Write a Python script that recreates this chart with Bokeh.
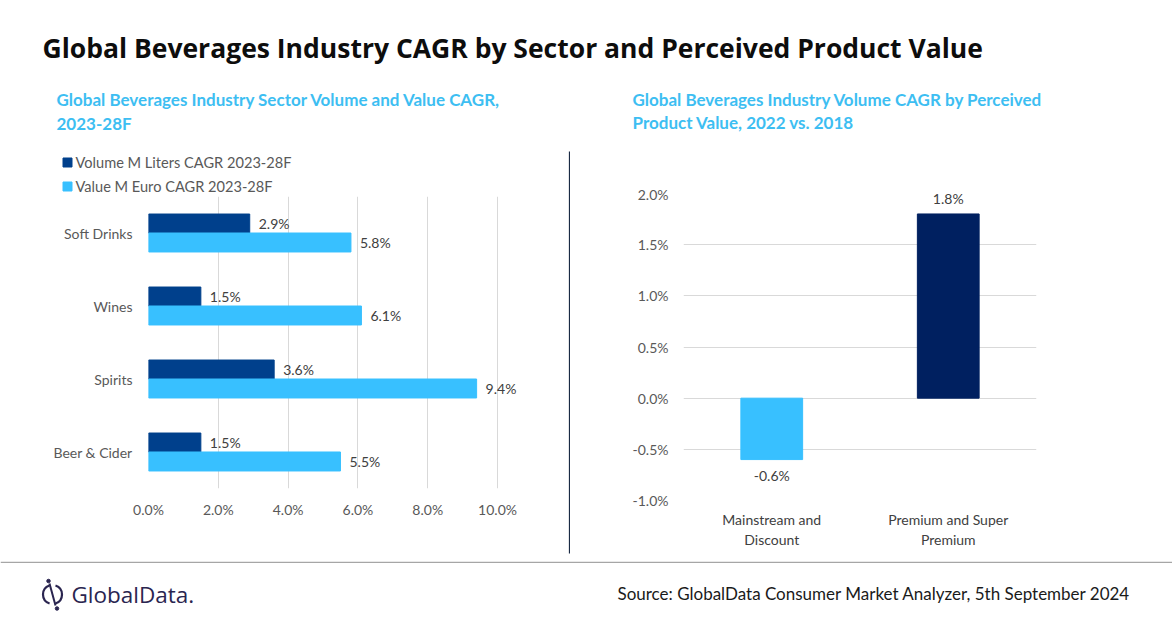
from bokeh.plotting import figure
from bokeh.models import (ColumnDataSource, FactorRange, Range1d, LabelSet,
                          PrintfTickFormatter, FixedTicker)
from bokeh.transform import dodge
from bokeh.layouts import column, row
from bokeh.embed import file_html
from bokeh.resources import INLINE
from bokeh.core.properties import value

# ---------------- data ----------------
TITLE = "Global Beverages Industry CAGR by Sector and Perceived Product Value"
LEFT_SUBTITLE = ["Global Beverages Industry Sector Volume and Value CAGR,", "2023-28F"]
RIGHT_SUBTITLE = ["Global Beverages Industry Volume CAGR by Perceived", "Product Value, 2022 vs. 2018"]
SOURCE = "Source: GlobalData Consumer Market Analyzer, 5th September 2024"
BRAND = "GlobalData."

sectors = ["Soft Drinks", "Wines", "Spirits", "Beer & Cider"]
volume_cagr = [2.9, 1.5, 3.6, 1.5]
value_cagr = [5.8, 6.1, 9.4, 5.5]
series_names = ["Volume M Liters CAGR 2023-28F", "Value M Euro CAGR 2023-28F"]
left_ticks = [0, 2, 4, 6, 8, 10]

segments = ["Mainstream and\nDiscount", "Premium and Super\nPremium"]
segment_cagr = [-0.6, 1.8]
right_ticks = [-1.0, -0.5, 0.0, 0.5, 1.0, 1.5, 2.0]

# ---------------- style ----------------
FONT = "Lato"
DARK_L = "#00408C"
LIGHT = "#38C0FF"
DARK_R = "#002060"
SUB_C = "#3DBEF2"
GRID_C = "#D9D9D9"
TICK_C = "#595959"
LBL_C = "#404040"


def canvas(w, h):
    f = figure(width=w, height=h, x_range=Range1d(0, w), y_range=Range1d(h, 0),
               output_backend="svg", toolbar_location=None, min_border=0,
               x_axis_location=None, y_axis_location=None, frame_align=False)
    f.grid.visible = False
    f.outline_line_color = None
    f.background_fill_color = "white"
    f.border_fill_color = "white"
    return f


def txt(f, x, y, s, size, color, bold=False, align="left", font=FONT):
    f.text(x=[x], y=[y], text=[s], text_font=value(font), text_font_size=size,
           text_color=color, text_baseline="middle", text_align=align,
           text_font_style="bold" if bold else "normal")


# ---------------- header ----------------
head = canvas(1172, 80)
txt(head, 42, 47, TITLE, "26.5px", "#0D0D0D", bold=True, font="Open Sans")

left_head = canvas(568, 116)
txt(left_head, 56, 19, LEFT_SUBTITLE[0], "17px", SUB_C, bold=True)
txt(left_head, 56, 43, LEFT_SUBTITLE[1], "17px", SUB_C, bold=True)
for i, (nm, c) in enumerate(zip(series_names, [DARK_L, LIGHT])):
    yy = 82 + 24 * i
    left_head.rect(x=[67], y=[yy], width=9, height=9, color=c)
    txt(left_head, 75, yy, nm, "14.6px", TICK_C)

right_head = canvas(602, 105)
txt(right_head, 62, 19, RIGHT_SUBTITLE[0], "17px", SUB_C, bold=True)
txt(right_head, 62, 42, RIGHT_SUBTITLE[1], "17px", SUB_C, bold=True)

# ---------------- left chart ----------------
src = ColumnDataSource(dict(
    sector=sectors, volume=volume_cagr, val=value_cagr,
    vol_lbl=[f"{v:.1f}%" for v in volume_cagr],
    val_lbl=[f"{v:.1f}%" for v in value_cagr]))

# axis runs a little past 10% so the outside value labels have room
lc = figure(width=568, height=365, y_range=FactorRange(*reversed(sectors)),
            x_range=Range1d(0, 10.6), output_backend="svg", toolbar_location=None,
            min_border_left=148, min_border_right=50, min_border_top=0,
            min_border_bottom=73, frame_align=False)
lc.hbar(y=dodge("sector", 0.13, range=lc.y_range), right="volume", height=0.26,
        color=DARK_L, source=src)
lc.hbar(y=dodge("sector", -0.13, range=lc.y_range), right="val", height=0.26,
        color=LIGHT, source=src)
for fld, lbl, off in [("volume", "vol_lbl", 0.13), ("val", "val_lbl", -0.13)]:
    lc.add_layout(LabelSet(x=fld, y=dodge("sector", off, range=lc.y_range), text=lbl,
                           x_offset=9, text_baseline="middle", text_font=value(FONT),
                           text_font_size="14px", text_color=LBL_C, source=src))
lc.xaxis.ticker = FixedTicker(ticks=left_ticks)
lc.xaxis.formatter = PrintfTickFormatter(format="%.1f%%")
lc.xgrid.ticker = FixedTicker(ticks=left_ticks)
lc.xgrid.grid_line_color = GRID_C
lc.ygrid.grid_line_color = None
lc.outline_line_color = None
for ax, so in [(lc.xaxis, 12), (lc.yaxis, 16)]:
    ax.axis_line_color = None
    ax.major_tick_line_color = None
    ax.minor_tick_line_color = None
    ax.major_tick_out = 0
    ax.major_tick_in = 0
    ax.minor_tick_out = 0
    ax.major_label_standoff = so
    ax.major_label_text_font = FONT
    ax.major_label_text_font_size = "14px"
    ax.major_label_text_color = TICK_C

# ---------------- right chart ----------------
rsrc = ColumnDataSource(dict(
    seg=segments, cagr=segment_cagr, color=[LIGHT, DARK_R],
    lbl=[f"{v:.1f}%" for v in segment_cagr],
    off=[15 if v > 0 else -16 for v in segment_cagr]))

rc = figure(width=602, height=376, x_range=FactorRange(*segments),
            y_range=Range1d(-1, 2), output_backend="svg", toolbar_location=None,
            min_border_left=113, min_border_right=136, min_border_top=8,
            min_border_bottom=61, frame_align=False)
rc.vbar(x="seg", top="cagr", bottom=0, width=0.35, color="color", source=rsrc)
rc.add_layout(LabelSet(x="seg", y="cagr", text="lbl", y_offset="off",
                       text_align="center", text_baseline="middle",
                       text_font=value(FONT), text_font_size="14px",
                       text_color=LBL_C, source=rsrc))
rc.yaxis.ticker = FixedTicker(ticks=right_ticks)
rc.yaxis.formatter = PrintfTickFormatter(format="%.1f%%")
rc.ygrid.ticker = FixedTicker(ticks=right_ticks)
rc.ygrid.grid_line_color = GRID_C
rc.xgrid.grid_line_color = None
rc.outline_line_color = None
for ax, so, c in [(rc.xaxis, 10, LBL_C), (rc.yaxis, 15, TICK_C)]:
    ax.axis_line_color = None
    ax.major_tick_line_color = None
    ax.minor_tick_line_color = None
    ax.major_tick_out = 0
    ax.major_tick_in = 0
    ax.minor_tick_out = 0
    ax.major_label_standoff = so
    ax.major_label_text_font = FONT
    ax.major_label_text_font_size = "14px"
    ax.major_label_text_color = c

# ---------------- divider ----------------
div = canvas(2, 481)
div.line(x=[1, 1], y=[71, 473], line_color="#1A2A44", line_width=1.5)

# ---------------- footer ----------------
foot = canvas(1172, 67)
foot.line(x=[0, 1172], y=[0.75, 0.75], line_color="#A6A6A6", line_width=1.5)
LOGO_C = "#2A2550"
foot.arc(x=[52, 52], y=[33, 33], radius=9.5, start_angle=[1.9, -1.25],
         end_angle=[4.4, 1.25], line_color=LOGO_C, line_width=2.2)
foot.line(x=[49, 55], y=[22, 44], line_color=LOGO_C, line_width=2)
foot.scatter(x=[48, 56.5], y=[19.5, 47], size=3.5, color=LOGO_C)
txt(foot, 71, 33, BRAND, "22.5px", LOGO_C, font="Open Sans")
txt(foot, 1130, 32, SOURCE, "17px", "#1A1A1A", align="right")

layout = column(
    head,
    row(column(left_head, lc), div, column(right_head, rc)),
    foot,
)

open("out.html", "w").write(file_html(layout, INLINE))
